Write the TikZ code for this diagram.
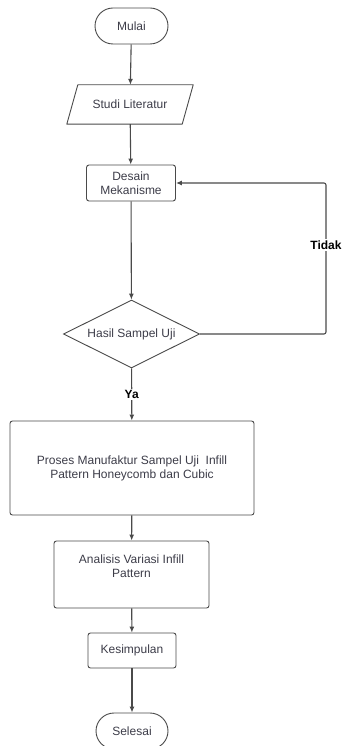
\documentclass[tikz,border=0pt]{standalone}
\usepackage{fontspec}
\setmainfont{Liberation Sans}
\usetikzlibrary{arrows.meta,shapes.geometric}
\definecolor{linegray}{HTML}{4A4A4A}
\definecolor{textgray}{HTML}{3C3C48}
\begin{document}
\begin{tikzpicture}[
    x=1pt, y=-1pt,
    font=\fontsize{12}{14}\selectfont,
    every node/.append style={text=textgray},
    term/.style={rectangle, draw=linegray, line width=0.9pt, minimum width=73pt, minimum height=36pt, rounded corners=18pt},
    io/.style={rectangle, minimum width=115pt, minimum height=39pt, inner sep=0pt},
    outline/.style={draw=linegray, line width=0.9pt, line join=round},
    box/.style={rectangle, draw=linegray, line width=0.9pt, align=center, rounded corners=2.5pt},
    decision/.style={diamond, draw=linegray, line width=0.9pt, aspect=2, minimum width=136pt, minimum height=68pt, inner sep=0pt},
    answer/.style={font=\fontsize{12}{14}\selectfont\bfseries, text=black, fill=white, inner sep=1.5pt},
    arrow/.style={-{Latex[length=6pt,width=5pt]}, draw=linegray, line width=1.1pt}
]
\clip (0,0) rectangle (342,746);

% Mulai
\node[term] (mulai) at (131.5, 26) {Mulai};

% Studi Literatur
\node[io] (studi) at (130, 104.5) {Studi Literatur};
\draw[outline] ([xshift=5.5pt]studi.north west) -- ([xshift=5.5pt]studi.north east)
    -- ([xshift=-5.5pt]studi.south east) -- ([xshift=-5.5pt]studi.south west) -- cycle;

% Desain Mekanisme
\node[box, minimum width=89pt, minimum height=36pt, inner sep=1pt] (desain) at (131, 183) {Desain\\Mekanisme};

% Hasil Sampel Uji
\node[decision] (hasil) at (131.5, 334) {Hasil Sampel Uji};

% Proses Manufaktur
\node[box, minimum width=244pt, minimum height=94pt] (proses) at (132, 468) {Proses Manufaktur Sampel Uji\ \ Infill\\Pattern Honeycomb dan Cubic};

% Analisis
\node[box, minimum width=155pt, minimum height=67pt] (analisis) at (131.5, 574.5) {Analisis Variasi Infill\\Pattern\\[2pt]};

% Kesimpulan
\node[box, minimum width=88pt, minimum height=35pt] (kesimpulan) at (132, 650.5) {Kesimpulan};

% Selesai
\node[term, minimum width=72pt] (selesai) at (132, 731) {Selesai};

% Arrows
\draw[arrow] (mulai) -- (studi);
\draw[arrow] (studi) -- (desain);
\draw[arrow] (desain) -- (hasil);
\draw[arrow] (hasil) -- node[answer, pos=0.5] {Ya} (proses);
\draw[arrow] (proses) -- (analisis);
\draw[arrow] (analisis) -- (kesimpulan);
\draw[arrow] (kesimpulan) -- (selesai);
\draw[arrow, rounded corners=2pt] (hasil.east) -- (326, 334) -- node[answer, pos=0.59] {Tidak} (326, 183) -- (desain.east);

\end{tikzpicture}
\end{document}
